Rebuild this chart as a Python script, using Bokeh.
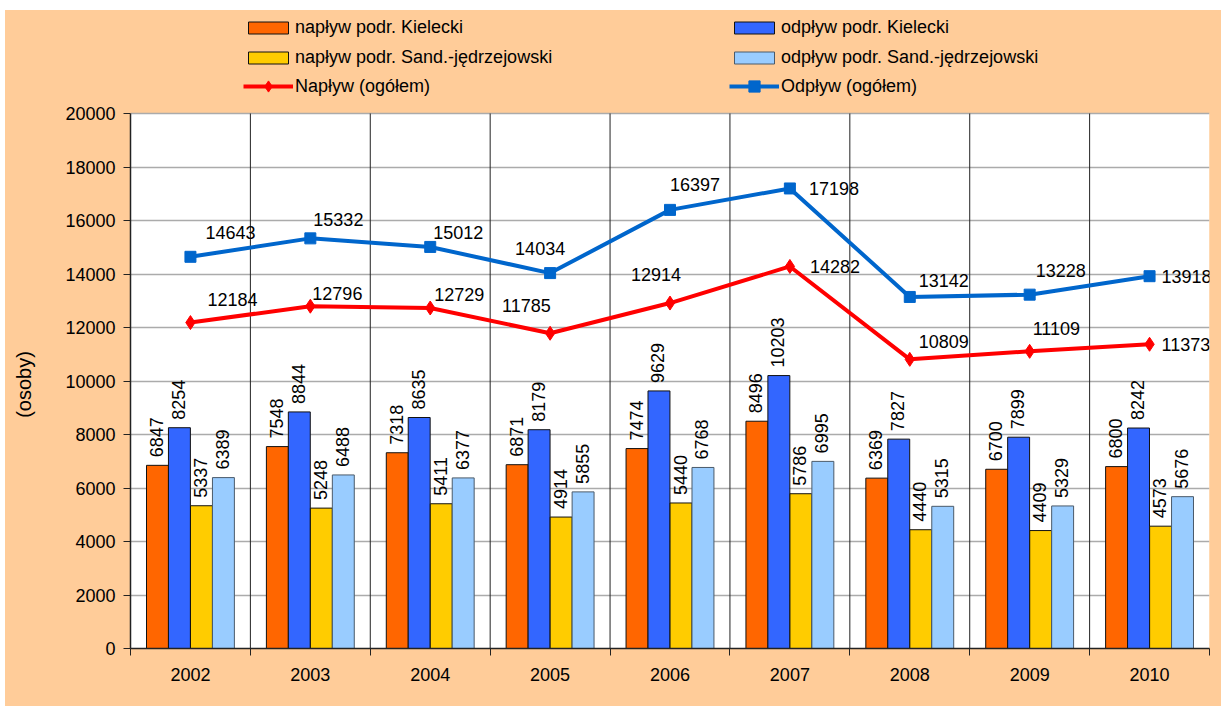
import numpy as np
from bokeh.plotting import figure
from bokeh.models import Range1d, FixedTicker, Legend, LegendItem, ColumnDataSource
from bokeh.core.properties import value
from bokeh.embed import file_html
from bokeh.resources import INLINE

# ---------------- data ----------------
years = ["2002", "2003", "2004", "2005", "2006", "2007", "2008", "2009", "2010"]
naplyw_kielecki = [6847, 7548, 7318, 6871, 7474, 8496, 6369, 6700, 6800]
odplyw_kielecki = [8254, 8844, 8635, 8179, 9629, 10203, 7827, 7899, 8242]
naplyw_sand = [5337, 5248, 5411, 4914, 5440, 5786, 4440, 4409, 4573]
odplyw_sand = [6389, 6488, 6377, 5855, 6768, 6995, 5315, 5329, 5676]
naplyw_ogolem = [12184, 12796, 12729, 11785, 12914, 14282, 10809, 11109, 11373]
odplyw_ogolem = [14643, 15332, 15012, 14034, 16397, 17198, 13142, 13228, 13918]
y_max = 20000
y_step = 2000

# label placement (pixel offsets of the line data labels)
odp_dx = [15, 3, 3, -35, 0, 19, 9, 6, 12]
odp_dy = [-24, -19, -14, -25, -25, 0, -16, -24, 0]
nap_dx = [17, 2, 4, -48, -39, 20, 9, 3, 12]
nap_dy = [-23, -13, -13, -28, -29, 0, -18, -23, 0]

FONT = "Liberation Sans"
FS = "18px"
PEACH = "#FFCC99"

n = len(years)
xc = np.arange(n) + 0.5

bw = 0.183
offs = [-0.275, -0.092, 0.092, 0.275]
series = [naplyw_kielecki, odplyw_kielecki, naplyw_sand, odplyw_sand]
colors = ["#FF6600", "#3366FF", "#FFCC00", "#99CCFF"]
outlines = ["#111111", "#111111", "#111111", "#4A5A6A"]
names = ["napływ podr. Kielecki", "odpływ podr. Kielecki",
         "napływ podr. Sand.-jędrzejowski", "odpływ podr. Sand.-jędrzejowski"]
RED, BLUE = "#FF0000", "#0066CC"

# The frame reaches up into the legend band; the white plot area is a quad.
FRAME_H = 638          # px, from page y=10 down to the x axis
PLOT_H = 535           # px height of the 0..20000 part
y_top = y_max * FRAME_H / PLOT_H

p = figure(width=1216, height=696, output_backend="svg", toolbar_location=None,
           x_range=Range1d(0, n), y_range=Range1d(0, y_top),
           min_border_left=125, min_border_right=12, min_border_top=0,
           min_border_bottom=58)
p.margin = (10, 0, 0, 5)
p.styles = {"background-color": PEACH}
p.border_fill_alpha = 0
p.background_fill_alpha = 0
p.outline_line_color = None

p.quad(left=[0], right=[n], bottom=[0], top=[y_max], fill_color="white",
       line_color=None, level="image")

p.xaxis.ticker = FixedTicker(ticks=list(xc), minor_ticks=list(range(n + 1)))
p.xaxis.major_label_overrides = {float(x): y for x, y in zip(xc, years)}
p.xaxis.major_tick_out = 0
p.xaxis.major_tick_in = 0
p.xaxis.minor_tick_out = 7
p.xaxis.minor_tick_in = 0
p.xaxis.major_label_standoff = 12
p.yaxis.ticker = FixedTicker(ticks=list(range(0, y_max + 1, y_step)))
p.yaxis.bounds = (0, y_max)
p.yaxis.major_tick_out = 7
p.yaxis.major_tick_in = 0
p.yaxis.minor_tick_line_color = None
p.yaxis.major_label_standoff = 8
# trailing em/en spaces keep the rotated title centred on the 0..20000 part
p.yaxis.axis_label = "(osoby)" + "\u2003" * 5 + "\u2002"
p.yaxis.axis_label_standoff = 27
for ax in (p.xaxis, p.yaxis):
    ax.axis_line_color = "#222222"
    ax.axis_line_width = 1.5
    ax.major_tick_line_color = "#222222"
    ax.major_label_text_font = FONT
    ax.major_label_text_font_size = FS
    ax.major_label_text_color = "black"
    ax.axis_label_text_font = FONT
    ax.axis_label_text_font_size = "20px"
    ax.axis_label_text_font_style = "normal"
    ax.axis_label_text_color = "black"
p.xaxis.minor_tick_line_color = "#222222"

p.xgrid.grid_line_color = None
p.ygrid.grid_line_color = "#ABABAB"
p.ygrid.grid_line_width = 1.5

# category separators
sep = list(range(1, n))
p.segment(x0=sep, y0=[0] * len(sep), x1=sep, y1=[y_max] * len(sep),
          line_color="#222222", line_width=1)

bar_r = []
for vals, off, col, oc in zip(series, offs, colors, outlines):
    src = ColumnDataSource(dict(x=xc + off, top=vals, lab=[str(v) for v in vals]))
    bar_r.append(p.vbar(x="x", top="top", width=bw, source=src, fill_color=col,
                        line_color=oc, line_width=1))
    p.text(x="x", y="top", text="lab", source=src, angle=np.pi / 2,
           text_align="left", text_baseline="middle", y_offset=-8, x_offset=-1,
           text_font=value(FONT), text_font_size=FS, text_color="black")

src_o = ColumnDataSource(dict(x=xc, y=odplyw_ogolem, lab=[str(v) for v in odplyw_ogolem],
                              dx=odp_dx, dy=odp_dy))
src_n = ColumnDataSource(dict(x=xc, y=naplyw_ogolem, lab=[str(v) for v in naplyw_ogolem],
                              dx=nap_dx, dy=nap_dy))
ln = p.line("x", "y", source=src_n, line_color=RED, line_width=4)
mn = p.scatter("x", "y", source=src_n, marker="diamond", size=14,
               fill_color=RED, line_color=RED)
lo = p.line("x", "y", source=src_o, line_color=BLUE, line_width=4)
mo = p.scatter("x", "y", source=src_o, marker="square", size=11,
               fill_color=BLUE, line_color=BLUE)
for src in (src_o, src_n):
    p.text(x="x", y="y", text="lab", source=src, x_offset="dx", y_offset="dy",
           text_align="left", text_baseline="middle",
           text_font=value(FONT), text_font_size=FS, text_color="black")


def make_legend(items, loc, gh):
    lg = Legend(items=items, location=loc, orientation="vertical",
                padding=0, margin=0, spacing=9, glyph_width=50, glyph_height=gh,
                label_height=20, label_standoff=2, border_line_color=None,
                background_fill_alpha=0, label_text_font=FONT,
                label_text_font_size=FS, label_text_color="black")
    p.add_layout(lg, "center")


make_legend([LegendItem(label=names[0], renderers=[bar_r[0]]),
             LegendItem(label=names[2], renderers=[bar_r[2]])], (113, 580), 15)
make_legend([LegendItem(label="Napływ (ogółem)", renderers=[ln, mn])], (113, 548), 28)
make_legend([LegendItem(label=names[1], renderers=[bar_r[1]]),
             LegendItem(label=names[3], renderers=[bar_r[3]])], (599, 580), 15)
make_legend([LegendItem(label="Odpływ (ogółem)", renderers=[lo, mo])], (599, 548), 28)

open("out.html", "w").write(file_html(p, INLINE))
